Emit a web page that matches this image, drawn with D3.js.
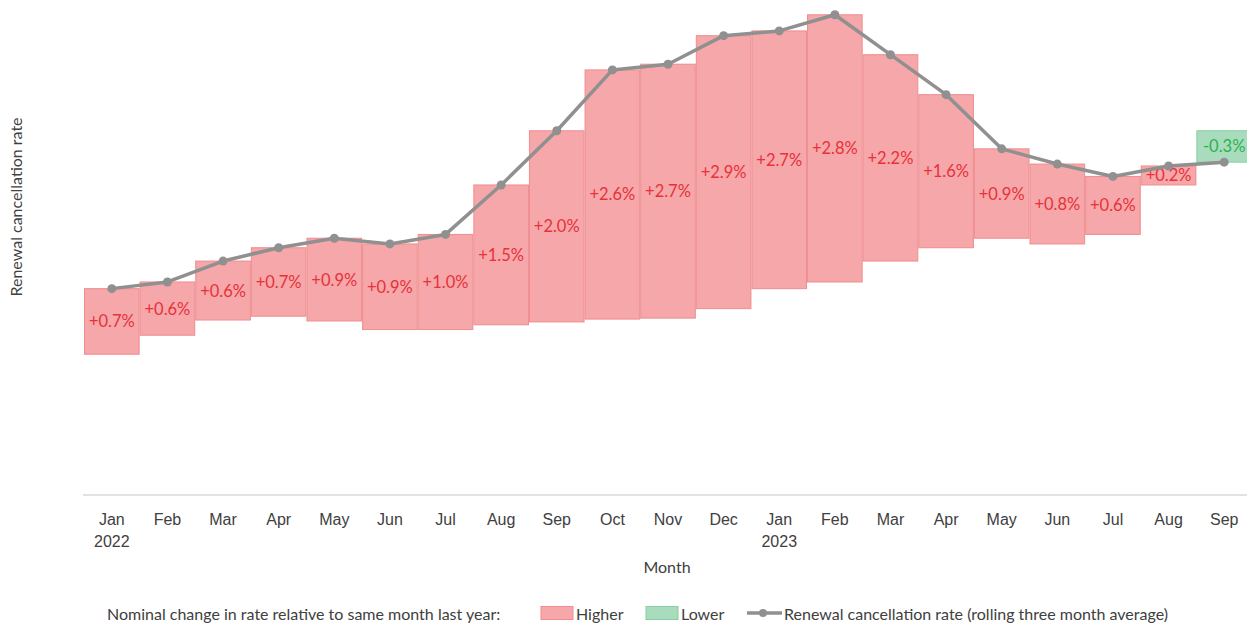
<!DOCTYPE html>
<html>
<head>
<meta charset="utf-8">
<script src="https://cdn.jsdelivr.net/npm/d3@7"></script>
<style>
    body { margin: 0; background: #fff; }
    svg { display: block; font-family: Lato, "Open Sans", sans-serif; }
</style>
</head>
<body>
<div id="chart"></div>
<script>
// months shown on the x axis (Jan 2022 - Sep 2023)
var months = ["Jan", "Feb", "Mar", "Apr", "May", "Jun", "Jul", "Aug", "Sep", "Oct", "Nov", "Dec",
              "Jan", "Feb", "Mar", "Apr", "May", "Jun", "Jul", "Aug", "Sep"];
var years = ["2022", "", "", "", "", "", "", "", "", "", "", "",
             "2023", "", "", "", "", "", "", "", ""];
// renewal cancellation rate, rolling three month average (%), Jan 2022 - Sep 2023
var rate = [2.17, 2.24, 2.46, 2.60, 2.70, 2.64, 2.74, 3.26, 3.83, 4.47, 4.53, 4.83,
            4.88, 5.05, 4.63, 4.21, 3.64, 3.48, 3.35, 3.46, 3.50];
// same rate one year earlier, Jan - Dec 2021 (2023 months compare against 2022 above)
var rate2021 = [1.48, 1.68, 1.84, 1.88, 1.83, 1.74, 1.74, 1.79, 1.82, 1.85, 1.86, 1.96];

var legendTitle = "Nominal change in rate relative to same month last year:";
var legendLabels = ["Higher", "Lower", "Renewal cancellation rate (rolling three month average)"];

function chart(){
    var attrs = {
        width: 1247,
        height: 623,
        margin: { top: 10, right: -5, bottom: 128, left: 84 },
        fontSize: 16,
        labelSize: 16.5,
        higherFill: "#f5a7a9",
        higherStroke: "#f08c8f",
        higherText: "#e8313a",
        lowerFill: "#a9dcbc",
        lowerStroke: "#86cfa2",
        lowerText: "#2bb24f",
        lineColor: "#909090",
        axisColor: "#d9d9d9",
        textColor: "#404040"
    };

    var data = months.map(function(m, i){
        var prev = i < 12 ? rate2021[i] : rate[i - 12];
        return { i: i, month: m, year: years[i], rate: rate[i], prev: prev, change: rate[i] - prev };
    });

    var svg = d3.select("#chart").append("svg")
        .attr("width", attrs.width)
        .attr("height", attrs.height);

    var x = d3.scaleBand()
        .domain(data.map(function(d){ return d.i; }))
        .range([attrs.margin.left, attrs.width - attrs.margin.right])
        .padding(0);

    // hidden value axis, 0 at the baseline
    var y = d3.scaleLinear()
        .domain([0, 5.1])
        .range([attrs.height - attrs.margin.bottom, attrs.margin.top]);

    // x axis
    var xAxis = d3.axisBottom(x)
        .tickSize(0)
        .tickPadding(0)
        .tickFormat(function(i){ return months[i]; });

    var axisG = svg.append("g")
        .attr("transform", "translate(0," + y(0) + ")")
        .call(xAxis);
    axisG.select(".domain")
        .attr("stroke", attrs.axisColor)
        .attr("stroke-width", 1.5)
        .attr("d", "M" + (attrs.margin.left - 1) + ",0H" + attrs.width);
    axisG.selectAll(".tick text")
        .attr("fill", attrs.textColor)
        .attr("font-size", attrs.fontSize)
        .attr("font-family", null)
        .attr("dy", null)
        .attr("y", 30)
        .each(function(i){
            if(years[i]){
                d3.select(this).append("tspan")
                    .attr("x", 0)
                    .attr("y", 52)
                    .text(years[i]);
            }
        });

    // axis titles
    svg.append("text")
        .attr("x", 667)
        .attr("y", 573)
        .attr("text-anchor", "middle")
        .attr("font-size", attrs.fontSize)
        .attr("fill", attrs.textColor)
        .text("Month");

    svg.append("text")
        .attr("transform", "translate(22,207) rotate(-90)")
        .attr("text-anchor", "middle")
        .attr("font-size", attrs.fontSize)
        .attr("fill", attrs.textColor)
        .text("Renewal cancellation rate");

    // floating bars: from last year's rate to this year's rate
    svg.append("g").selectAll(".bar")
        .data(data)
        .enter().append("rect")
        .attr("class", "bar")
        .attr("x", function(d){ return x(d.i) + 0.5; })
        .attr("width", x.bandwidth() - 1)
        .attr("y", function(d){ return y(Math.max(d.rate, d.prev)); })
        .attr("height", function(d){ return Math.abs(y(d.rate) - y(d.prev)); })
        .attr("fill", function(d){ return d.change >= 0 ? attrs.higherFill : attrs.lowerFill; })
        .attr("stroke", function(d){ return d.change >= 0 ? attrs.higherStroke : attrs.lowerStroke; })
        .attr("stroke-width", 1);

    // plain hyphen for the minus sign, as in the original
    var fmt = d3.formatLocale({ decimal: ".", thousands: ",", grouping: [3], currency: ["", ""], minus: "-" }).format("+.1f");
    svg.append("g").selectAll(".barLabel")
        .data(data)
        .enter().append("text")
        .attr("class", "barLabel")
        .attr("x", function(d){ return x(d.i) + x.bandwidth() / 2; })
        .attr("y", function(d){ return (y(d.rate) + y(d.prev)) / 2; })
        .attr("text-anchor", "middle")
        .attr("dominant-baseline", "central")
        .attr("font-size", attrs.labelSize)
        .attr("fill", function(d){ return d.change >= 0 ? attrs.higherText : attrs.lowerText; })
        .text(function(d){ return fmt(d.change) + "%"; });

    // rolling average line
    var line = d3.line()
        .x(function(d){ return x(d.i) + x.bandwidth() / 2; })
        .y(function(d){ return y(d.rate); });

    svg.append("path")
        .datum(data)
        .attr("d", line)
        .attr("fill", "none")
        .attr("stroke", attrs.lineColor)
        .attr("stroke-width", 3.5)
        .attr("stroke-linejoin", "round");

    svg.append("g").selectAll(".dot")
        .data(data)
        .enter().append("circle")
        .attr("class", "dot")
        .attr("cx", function(d){ return x(d.i) + x.bandwidth() / 2; })
        .attr("cy", function(d){ return y(d.rate); })
        .attr("r", 4.5)
        .attr("fill", attrs.lineColor);

    // legend
    var lg = svg.append("g").attr("font-size", attrs.fontSize).attr("fill", attrs.textColor);
    var ly = 613;
    lg.append("text").attr("x", 107).attr("y", ly).attr("dominant-baseline", "central").text(legendTitle);

    lg.append("rect").attr("x", 541).attr("y", ly - 6.5).attr("width", 32).attr("height", 13)
        .attr("fill", attrs.higherFill).attr("stroke", attrs.higherStroke);
    lg.append("text").attr("x", 576).attr("y", ly).attr("dominant-baseline", "central").text(legendLabels[0]);

    lg.append("rect").attr("x", 646).attr("y", ly - 6.5).attr("width", 32).attr("height", 13)
        .attr("fill", attrs.lowerFill).attr("stroke", attrs.lowerStroke);
    lg.append("text").attr("x", 681).attr("y", ly).attr("dominant-baseline", "central").text(legendLabels[1]);

    lg.append("line").attr("x1", 747).attr("x2", 782).attr("y1", ly).attr("y2", ly)
        .attr("stroke", attrs.lineColor).attr("stroke-width", 3.5);
    lg.append("circle").attr("cx", 763).attr("cy", ly).attr("r", 4).attr("fill", attrs.lineColor);
    lg.append("text").attr("x", 784).attr("y", ly).attr("dominant-baseline", "central").text(legendLabels[2]);
}

chart();
</script>
</body>
</html>
